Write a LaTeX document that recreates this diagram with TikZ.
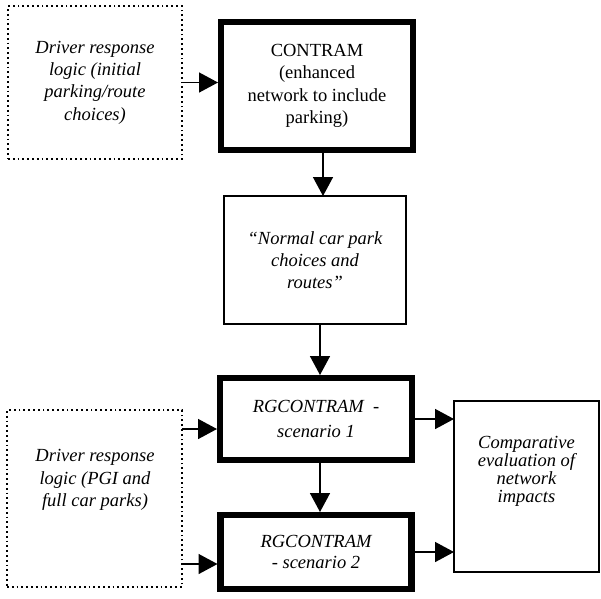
\documentclass[tikz,border=0pt]{standalone}
\usepackage{fontspec}
\setmainfont{Liberation Serif}
\usetikzlibrary{arrows.meta}
\begin{document}
\begin{tikzpicture}[x=1pt,y=-1pt,
  boxbase/.style={inner sep=0pt, outer sep=0pt, align=center},
  thickbox/.style={boxbase, draw, line width=6.5pt},
  thinbox/.style={boxbase, draw, line width=1.6pt},
  dotbox/.style={boxbase, draw, line width=1.8pt, dash pattern=on 1.8pt off 3pt},
  rmtext/.style={font=\fontsize{18.5}{#1}\selectfont},
  rmtext/.default=22.3,
  ittext/.style={font=\fontsize{18.5}{#1}\selectfont\itshape},
  ittext/.default=22.3,
  lbl/.style={inner sep=0pt, align=center},
  arr/.style={line width=1.5pt, -{Triangle[length=19pt,width=20pt]}},
  arrthick/.style={arr, shorten >=3pt},
]
\fill[white] (0,0) rectangle (601,598);
\useasboundingbox (0,0) rectangle (601,598);

% boxes
\node[dotbox, ittext, minimum width=174pt, minimum height=153pt] (d1) at (95,82.5)
  {Driver response\\logic (initial\\parking/route\\choices)};
\node[thickbox, rmtext, minimum width=192pt, minimum height=128pt] (contram) at (317,86)
  {CONTRAM\\(enhanced\\network to include\\parking)};
\node[thinbox, ittext, minimum width=182pt, minimum height=128pt] (normal) at (315,260)
  {“Normal car park\\choices and\\routes”};
\node[thickbox, ittext=25, minimum width=192pt, minimum height=82pt] (rg1) at (316,419)
  {RGCONTRAM\ \ -\\scenario 1};
\node[thickbox, ittext=21.5, minimum width=191pt, minimum height=74pt] (rg2) at (316,552)
  {RGCONTRAM\\- scenario 2};
\node[thinbox, minimum width=145pt, minimum height=171pt] (comp) at (526.5,486.5) {};
\node[lbl, ittext=18] (comptxt) at (526.5,471)
  {Comparative\\evaluation of\\network\\impacts};
\node[dotbox, minimum width=175pt, minimum height=177pt] (d2) at (94.5,498.5) {};
\node[lbl, ittext] (d2txt) at (95,480)
  {Driver response\\logic (PGI and\\full car parks)};

% connectors
\draw[arrthick] (d1.east) -- (d1.east -| contram.west);
\draw[arr] ([xshift=6pt]contram.south) -- ([xshift=6pt]contram.south |- normal.north);
\draw[arrthick] ([xshift=5pt]normal.south) -- ([xshift=5pt]normal.south |- rg1.north);
\draw[arrthick] ([xshift=4pt]rg1.south) -- ([xshift=4pt]rg1.south |- rg2.north);
\coordinate (in1) at ([yshift=-10pt]rg1.west);
\coordinate (in2) at ([yshift=-12pt]rg2.west);
\draw[arrthick] (d2.east |- in1) -- (in1);
\draw[arrthick] (d2.east |- in2) -- (in2);
\draw[arr] (rg1.east) -- (rg1.east -| comp.west);
\draw[arr] (rg2.east) -- (rg2.east -| comp.west);
\end{tikzpicture}
\end{document}
